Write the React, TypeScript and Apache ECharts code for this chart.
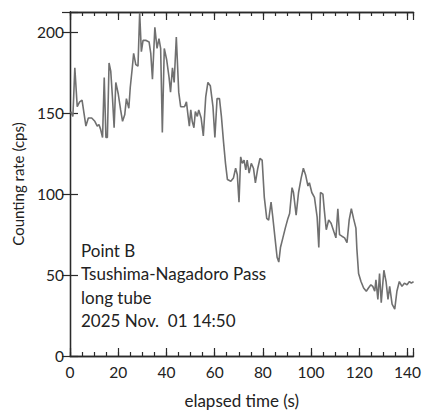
import React, { useEffect, useRef } from "react";
import * as echarts from "echarts";

const times = [
  0.3, 1.2, 2, 3, 4, 5, 5.8, 6.6, 7.6, 9, 10.3, 11.3, 12, 12.7, 13.5, 14.2, 14.9, 15.5, 16.2, 16.9,
  17.6, 18.3, 19, 20, 21, 21.8, 22.7, 23.4, 24.4, 25, 25.9, 26.4, 27.3, 28.2, 28.9, 29.6, 30.3, 31.4,
  32.8, 33.5, 34.2, 35.2, 36.1, 36.9, 37.6, 38.3, 39.1, 40.1, 41.1, 41.7, 42.5, 43.2, 44.1, 45.1,
  45.9, 47.5, 48.3, 49, 49.5, 50.1, 50.7, 51.4, 52, 52.8, 53.4, 54.4, 55.3, 56.3, 57.2, 58.2, 59.3,
  60.1, 61, 62, 62.8, 63.7, 64.5, 65.3, 66.7, 67.8, 68.7, 69.4, 70.1, 70.8, 71.5, 72.2, 72.9, 73.5,
  74.3, 75.2, 76.1, 76.9, 77.9, 78.8, 79.7, 80.6, 81.6, 82.4, 83.4, 84.1, 85.1, 85.9, 86.6, 87.3,
  88.3, 89.3, 90.4, 91.1, 92.1, 92.7, 93.8, 94.8, 95.9, 96.8, 97.7, 98.7, 99.3, 100.3, 101.4, 102.5,
  103.2, 103.9, 104.9, 105.5, 106.3, 107.3, 108.3, 109.4, 110.3, 111.1, 111.8, 112.8, 113.9, 114.9,
  115.8, 116.7, 117.6, 118.6, 119.0, 119.7, 120.7, 121.8, 122.9, 123.8, 124.8, 125.6, 126.4, 126.9,
  127.7, 128.4, 129.1, 130.2, 131.1, 131.9, 132.6, 133.6, 134.7, 135.6, 136.6, 137.7, 138.7, 139.8,
  140.8, 141.6, 142.5,
];

const counts = [
  151, 148, 178, 154, 157, 158, 150, 142, 147, 147, 145, 142, 143, 140, 135, 172, 135, 135, 181, 176,
  160, 141, 169, 162, 152, 145, 149, 159, 153, 166, 179, 187, 180, 179, 212, 188, 195, 195,
  194, 187, 171, 203, 190, 196, 190, 138, 190, 183, 172, 163, 178, 169, 197, 163,
  154, 154, 157, 148, 142, 152, 145, 141, 151, 148, 152, 147, 136, 160, 169, 167, 154,
  135, 159, 159, 148, 132, 119, 109, 108, 110, 116, 112, 95, 123, 119, 121, 115, 121,
  113, 119, 116, 107, 116, 122, 121, 98, 85, 84, 95, 86, 72, 61, 58, 67,
  73, 79, 85, 88, 104, 101, 87, 101, 110, 116, 112, 105, 107, 101, 98, 86,
  67, 101, 100, 90, 78, 84, 82, 77, 73, 91, 75, 74, 73, 70,
  84, 91, 85, 79, 66, 51, 46, 42, 40, 42, 44, 43, 40, 47,
  35, 51, 33, 53, 46, 35, 43, 32, 29, 40, 46, 43, 45, 44,
  46, 45, 46,
];

const xTickValues = [0, 20, 40, 60, 80, 100, 120, 140];
const yTickValues = [0, 50, 100, 150, 200];
const noteLines = ["Point B", "Tsushima-Nagadoro Pass", "long tube", "2025 Nov.  01 14:50"];

const X_MAX = 142.5;
const Y_MAX = 212.5;
const FONT = "Lato, 'Noto Sans', sans-serif";
const AXIS_COLOR = "#2a2a2a";

export default function App() {
  const ref = useRef<HTMLDivElement>(null);
  useEffect(() => {
    if (!ref.current) return;
    const chart = echarts.init(ref.current, undefined, { renderer: "svg" });
    const axisLine = { show: true, lineStyle: { color: AXIS_COLOR, width: 1.3 } };
    const baseX = (extra: any) => ({
      type: "value",
      min: 0,
      max: X_MAX,
      splitLine: { show: false },
      axisLine,
      ...extra,
    });
    const baseY = (extra: any) => ({
      type: "value",
      min: 0,
      max: Y_MAX,
      interval: 50,
      splitLine: { show: false },
      axisLine,
      ...extra,
    });
    const option: any = {
      animation: false,
      textStyle: { fontFamily: FONT },
      grid: { left: 70, right: 9, top: 12, bottom: 58, containLabel: false },
      xAxis: [
        baseX({
          position: "bottom",
          interval: 20,
          name: "elapsed time (s)",
          nameLocation: "middle",
          nameGap: 36,
          nameTextStyle: { fontSize: 17, color: "#222", fontFamily: FONT },
          axisTick: { show: true, inside: true, length: 8, lineStyle: { color: AXIS_COLOR, width: 1.2 } },
          axisLabel: {
            fontSize: 15.5,
            color: "#222",
            fontFamily: FONT,
            margin: 8,
            showMaxLabel: true,
            formatter: (v: number) => (xTickValues.includes(v) ? String(v) : ""),
          },
        }),
        baseX({
          position: "bottom",
          interval: 5,
          axisTick: { show: true, inside: true, length: 4, lineStyle: { color: AXIS_COLOR, width: 1.2 } },
          axisLabel: { show: false },
        }),
        baseX({
          position: "top",
          interval: 20,
          axisTick: { show: true, inside: true, length: 8, lineStyle: { color: AXIS_COLOR, width: 1.2 } },
          axisLabel: { show: false },
        }),
        baseX({
          position: "top",
          interval: 5,
          axisTick: { show: true, inside: true, length: 4, lineStyle: { color: AXIS_COLOR, width: 1.2 } },
          axisLabel: { show: false },
        }),
      ],
      yAxis: [
        baseY({
          position: "left",
          name: "Counting rate (cps)",
          nameLocation: "middle",
          nameGap: 45,
          nameRotate: 90,
          nameTextStyle: { fontSize: 15, color: "#222", fontFamily: FONT },
          axisTick: { show: true, inside: true, length: 8, lineStyle: { color: AXIS_COLOR, width: 1.2 } },
          axisLabel: {
            fontSize: 15.5,
            color: "#222",
            fontFamily: FONT,
            margin: 6,
            formatter: (v: number) => (yTickValues.includes(v) ? String(v) : ""),
          },
        }),
        baseY({
          position: "right",
          axisTick: { show: true, inside: true, length: 8, lineStyle: { color: AXIS_COLOR, width: 1.2 } },
          axisLabel: { show: false },
        }),
      ],
      series: [
        {
          type: "line",
          xAxisIndex: 0,
          yAxisIndex: 0,
          showSymbol: false,
          symbol: "none",
          clip: true,
          lineStyle: { color: "#707070", width: 1.6 },
          data: times.map((t, i) => [t, counts[i]]),
        },
      ],
      graphic: noteLines.map((line, i) => ({
        type: "text",
        left: 81,
        top: 242 + i * 23.4,
        style: { text: line, fontSize: 17, fontFamily: FONT, fill: "#222" },
      })),
    };
    chart.setOption(option);
    return () => chart.dispose();
  }, []);
  return (
    <div
      ref={ref}
      style={{ position: "fixed", left: 0, top: 0, width: 424, height: 414, background: "#fff" }}
    />
  );
}
